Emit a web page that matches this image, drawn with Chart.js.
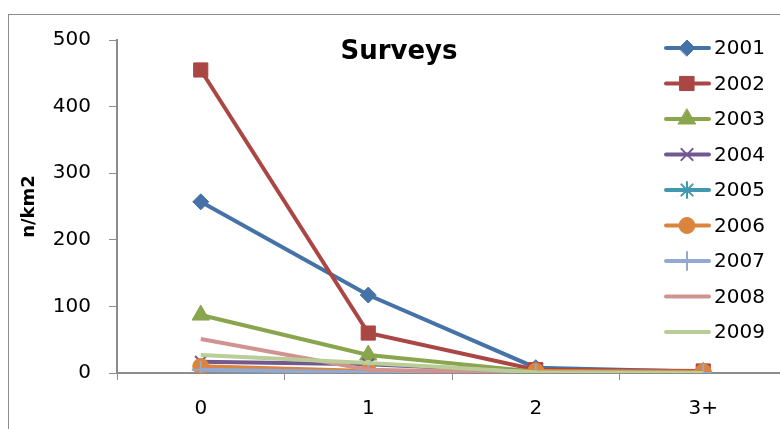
<!DOCTYPE html>
<html>
<head>
<meta charset="utf-8">
<script src="https://cdn.jsdelivr.net/npm/chart.js@4"></script>
<style>
  html, body { margin: 0; padding: 0; background: #fff; overflow: hidden; }
  #wrap { position: relative; width: 780px; height: 429px; overflow: hidden; }
  #frame { position: absolute; left: 8px; top: 14px; width: 900px; height: 500px;
           border-left: 1px solid #8c8c8c; border-top: 1px solid #8c8c8c; }
  canvas { position: absolute; left: 0; top: 0; }
</style>
</head>
<body>
<div id="wrap">
  <div id="frame"></div>
  <canvas id="surveyChart" width="800" height="429" style="width:800px;height:429px"></canvas>
</div>
<script>
// データ
const categories = ["0", "1", "2", "3+"];
const years = ["2001", "2002", "2003", "2004", "2005", "2006", "2007", "2008", "2009"];
const v2001 = [257, 117, 8, 2];
const v2002 = [455, 60, 5, 3];
const v2003 = [87, 27, 2, 1];
const v2004 = [17, 13, 2, 0];
const v2005 = [5, 0, 1, 0];
const v2006 = [10, 3, 3, 2];
const v2007 = [5, 1, 0, 0];
const v2008 = [51, 5, 0, 0];
const v2009 = [27, 15, 1, 0];
const yTicks = [0, 100, 200, 300, 400, 500];

const seriesValues = [v2001, v2002, v2003, v2004, v2005, v2006, v2007, v2008, v2009];
const colors = ["#4572A7", "#AA4643", "#89A54E", "#71588F", "#4198AF", "#DB843D", "#93A9CF", "#D19392", "#B9CD96"];
const markers = ["rectRot", "rect", "triangle", "crossRot", "star", "circle", "cross", false, false];
const radii = [8, 10, 10, 8, 8, 8, 9, 0, 0];

const FONT = "'DejaVu Sans', sans-serif";

const datasets = years.map((y, i) => ({
  label: y,
  data: seriesValues[i],
  borderColor: colors[i],
  backgroundColor: colors[i],
  borderWidth: 4,
  pointStyle: markers[i],
  pointRadius: radii[i],
  pointHoverRadius: radii[i],
  pointBorderWidth: (markers[i] === "crossRot" || markers[i] === "star" || markers[i] === "cross") ? 2 : 1,
  pointBorderColor: colors[i],
  pointBackgroundColor: colors[i],
  tension: 0,
  order: years.length - i
}));

// タイトルと凡例を描く
const overlay = {
  id: "overlay",
  afterDraw(chart) {
    const ctx = chart.ctx;
    ctx.save();
    ctx.fillStyle = "#000";
    ctx.font = "bold 26px " + FONT;
    ctx.textAlign = "center";
    ctx.textBaseline = "middle";
    ctx.fillText("Surveys", 399, 52);

    ctx.font = "20px " + FONT;
    ctx.textAlign = "left";
    chart.data.datasets.forEach((ds, i) => {
      const y = 48 + i * 35.5;
      ctx.strokeStyle = ds.borderColor;
      ctx.lineWidth = 4;
      ctx.lineCap = "round";
      ctx.beginPath();
      ctx.moveTo(666, y);
      ctx.lineTo(709, y);
      ctx.stroke();
      if (ds.pointStyle) {
        ctx.fillStyle = ds.backgroundColor;
        ctx.strokeStyle = ds.pointBorderColor;
        ctx.lineWidth = ds.pointBorderWidth;
        Chart.helpers.drawPoint(ctx, { pointStyle: ds.pointStyle, radius: ds.pointRadius, rotation: 0, borderWidth: ds.pointBorderWidth }, 687, y);
      }
      ctx.fillStyle = "#000";
      ctx.fillText(ds.label, 714, y + 1);
    });
    ctx.restore();
  }
};

new Chart(document.getElementById("surveyChart"), {
  type: "line",
  data: { labels: categories, datasets },
  options: {
    responsive: false,
    animation: false,
    layout: { padding: { left: 0, right: 13, top: 40, bottom: 0 } },
    plugins: { legend: { display: false }, tooltip: { enabled: false } },
    scales: {
      x: {
        offset: true,
        grid: { offset: true, drawOnChartArea: false, drawTicks: true, tickLength: 7, color: "#8c8c8c", lineWidth: 1 },
        border: { color: "#8c8c8c", width: 2 },
        ticks: { color: "#000", font: { family: FONT, size: 20 }, padding: 17 },
        afterFit(scale) { scale.height = 56; }
      },
      y: {
        min: 0,
        max: 500,
        afterBuildTicks(scale) { scale.ticks = yTicks.map(v => ({ value: v })); },
        grid: { drawOnChartArea: false, drawTicks: true, tickLength: 8, color: "#8c8c8c", lineWidth: 1 },
        border: { color: "#8c8c8c", width: 2 },
        ticks: { color: "#000", font: { family: FONT, size: 20 }, padding: 18 },
        title: { display: true, text: "n/km2", color: "#000", font: { family: FONT, size: 18, weight: "bold" }, padding: { top: 19, bottom: 0 } },
        afterFit(scale) { scale.width = 117; }
      }
    }
  },
  plugins: [overlay]
});
</script>
</body>
</html>
